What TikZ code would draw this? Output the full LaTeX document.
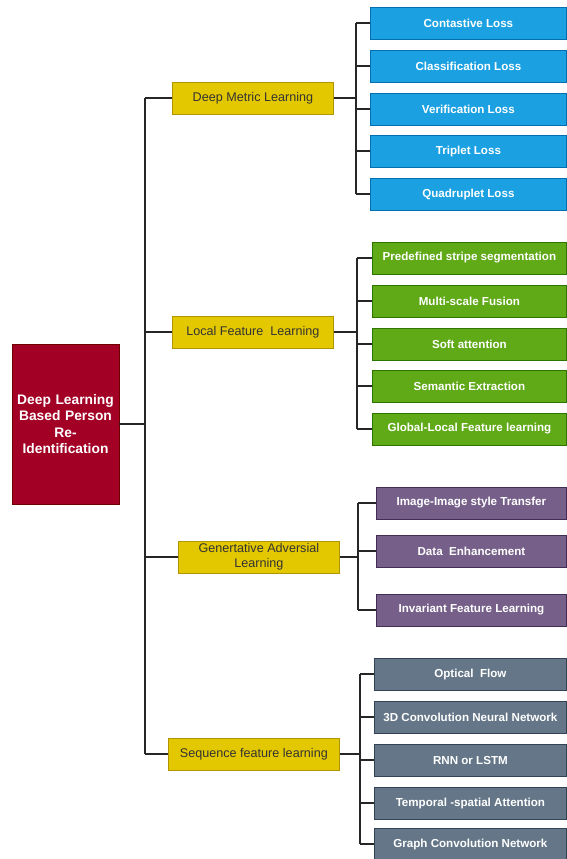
\documentclass[tikz,border=0pt]{standalone}
\usepackage{fontspec}
\setmainfont{Liberation Sans}
\definecolor{rootFill}{HTML}{A20025}
\definecolor{rootLine}{HTML}{6F0000}
\definecolor{yFill}{HTML}{E3C800}
\definecolor{yLine}{HTML}{B09500}
\definecolor{bFill}{HTML}{1BA1E2}
\definecolor{bLine}{HTML}{006EAF}
\definecolor{gFill}{HTML}{60A917}
\definecolor{gLine}{HTML}{2D7600}
\definecolor{pFill}{HTML}{76608A}
\definecolor{pLine}{HTML}{432D57}
\definecolor{sFill}{HTML}{647687}
\definecolor{sLine}{HTML}{314354}
\tikzset{
  leaf/.style={draw, line width=0.8pt, inner sep=0pt, minimum height=32pt, anchor=west,
    text=white, font=\fontsize{11.6}{13}\selectfont\bfseries},
  blueleaf/.style={leaf, fill=bFill, draw=bLine, minimum width=196pt},
  greenleaf/.style={leaf, fill=gFill, draw=gLine, minimum width=194pt},
  purpleleaf/.style={leaf, fill=pFill, draw=pLine, minimum width=190pt},
  slateleaf/.style={leaf, fill=sFill, draw=sLine, minimum width=192pt},
  topic/.style={draw=yLine, fill=yFill, line width=0.8pt, inner sep=0pt, anchor=west,
    minimum height=32pt, text=black!80, align=center, font=\fontsize{12.6}{15}\selectfont},
  wire/.style={line width=1.4pt, black!85}
}
\begin{document}
\begin{tikzpicture}[x=1pt, y=-1pt]
\useasboundingbox (0,0) rectangle (567,859);

% root
\node[draw=rootLine, fill=rootFill, line width=0.8pt, minimum width=107pt, minimum height=160pt,
  inner sep=0pt, text width=106pt, align=center, text=white,
  font=\fontsize{13.8}{16.5}\selectfont\bfseries] (root) at (65.5,424)
  {Deep Learning\\Based Person\\Re-\\Identification};

% second level
\node[topic, minimum width=161pt] (dml) at (172,98) {Deep Metric Learning};
\node[topic, minimum width=161pt] (lfl) at (172,332) {Local Feature\ \ Learning};
\node[topic, minimum width=161pt] (gal) at (178,557) {Genertative Adversial\\Learning};
\node[topic, minimum width=171pt] (sfl) at (168,754) {Sequence feature learning};

% leaves: deep metric learning
\node[blueleaf] (b1) at (370,23) {Contastive Loss};
\node[blueleaf] (b2) at (370,66) {Classification Loss};
\node[blueleaf] (b3) at (370,109) {Verification Loss};
\node[blueleaf] (b4) at (370,151) {Triplet Loss};
\node[blueleaf] (b5) at (370,194) {Quadruplet Loss};

% leaves: local feature learning
\node[greenleaf] (g1) at (372,258) {Predefined stripe segmentation};
\node[greenleaf] (g2) at (372,301) {Multi-scale Fusion};
\node[greenleaf] (g3) at (372,344) {Soft attention};
\node[greenleaf] (g4) at (372,386) {Semantic Extraction};
\node[greenleaf] (g5) at (372,429) {Global-Local Feature learning};

% leaves: generative adversarial learning
\node[purpleleaf] (p1) at (376,503) {Image-Image style Transfer};
\node[purpleleaf] (p2) at (376,551) {Data\ \ Enhancement};
\node[purpleleaf] (p3) at (376,610) {Invariant Feature Learning};

% leaves: sequence feature learning
\node[slateleaf] (s1) at (374,674) {Optical\ \ Flow};
\node[slateleaf] (s2) at (374,717) {3D Convolution Neural Network};
\node[slateleaf] (s3) at (374,760) {RNN or LSTM};
\node[slateleaf] (s4) at (374,803) {Temporal -spatial Attention};
\node[slateleaf] (s5) at (374,844) {Graph Convolution Network};

% trunk from the root to the four topics
\coordinate (trunk) at (145,424);
\draw[wire] (root.east) -- (trunk);
\draw[wire] (dml.west -| trunk) -- (sfl.west -| trunk);
\foreach \t in {dml,lfl,gal,sfl} \draw[wire] (\t.west) -- (\t.west -| trunk);

% branch buses
\coordinate (busB) at (356,0);
\coordinate (busG) at (357,0);
\coordinate (busP) at (358,0);
\coordinate (busS) at (360,0);

\draw[wire] (b1.west -| busB) -- (b5.west -| busB);
\draw[wire] (dml.east) -- (dml.east -| busB);
\foreach \n in {b1,b2,b3,b4,b5} \draw[wire] (\n.west) -- (\n.west -| busB);

\draw[wire] (g1.west -| busG) -- (g5.west -| busG);
\draw[wire] (lfl.east) -- (lfl.east -| busG);
\foreach \n in {g1,g2,g3,g4,g5} \draw[wire] (\n.west) -- (\n.west -| busG);

\draw[wire] (p1.west -| busP) -- (p3.west -| busP);
\draw[wire] (gal.east) -- (gal.east -| busP);
\foreach \n in {p1,p2,p3} \draw[wire] (\n.west) -- (\n.west -| busP);

\draw[wire] (s1.west -| busS) -- (s5.west -| busS);
\draw[wire] (sfl.east) -- (sfl.east -| busS);
\foreach \n in {s1,s2,s3,s4,s5} \draw[wire] (\n.west) -- (\n.west -| busS);
\end{tikzpicture}
\end{document}
